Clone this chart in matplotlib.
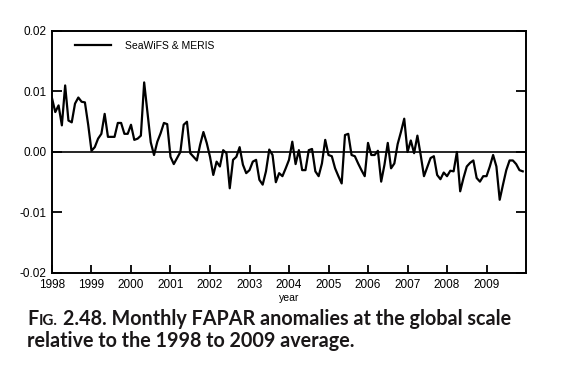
import numpy as np
import matplotlib.pyplot as plt

# monthly FAPAR anomalies, Jan 1998 .. Dec 2009
a1998 = [0.0089, 0.0066, 0.0077, 0.0044, 0.0110, 0.0052, 0.0049, 0.0080, 0.0090, 0.0083, 0.0082, 0.0045]
a1999 = [0.0002, 0.0008, 0.0022, 0.0030, 0.0063, 0.0025, 0.0025, 0.0025, 0.0048, 0.0048, 0.0030, 0.0030]
a2000 = [0.0045, 0.0020, 0.0022, 0.0027, 0.0115, 0.0066, 0.0016, -0.0005, 0.0017, 0.0031, 0.0048, 0.0046]
a2001 = [-0.0008, -0.0020, -0.0010, 0.0000, 0.0045, 0.0050, -0.0002, -0.0008, -0.0014, 0.0012, 0.0033, 0.0015]
a2002 = [-0.0008, -0.0038, -0.0016, -0.0024, 0.0003, -0.0002, -0.0060, -0.0013, -0.0008, 0.0008, -0.0021, -0.0035]
a2003 = [-0.0030, -0.0016, -0.0013, -0.0046, -0.0054, -0.0032, 0.0004, -0.0005, -0.0050, -0.0035, -0.0040, -0.0027]
a2004 = [-0.0013, 0.0017, -0.0020, 0.0003, -0.0030, -0.0030, 0.0003, 0.0005, -0.0032, -0.0040, -0.0019, 0.0020]
a2005 = [-0.0005, -0.0007, -0.0027, -0.0040, -0.0052, 0.0028, 0.0030, -0.0005, -0.0007, -0.0019, -0.0030, -0.0040]
a2006 = [0.0015, -0.0005, -0.0005, 0.0002, -0.0049, -0.0021, 0.0015, -0.0027, -0.0019, 0.0013, 0.0033, 0.0055]
a2007 = [0.0000, 0.0019, -0.0002, 0.0027, -0.0005, -0.0040, -0.0025, -0.0010, -0.0007, -0.0038, -0.0045, -0.0034]
a2008 = [-0.0040, -0.0031, -0.0032, 0.0000, -0.0065, -0.0043, -0.0024, -0.0018, -0.0014, -0.0043, -0.0049, -0.0040]
a2009 = [-0.0040, -0.0024, -0.0005, -0.0024, -0.0079, -0.0054, -0.0030, -0.0014, -0.0014, -0.0020, -0.0030, -0.0032]

years = list(range(1998, 2010))
yticks = [-0.02, -0.01, 0.0, 0.01, 0.02]
ytick_labels = ['-0.02', '-0.01', '0.00', '0.01', '0.02']

vals = np.array(a1998 + a1999 + a2000 + a2001 + a2002 + a2003 +
                a2004 + a2005 + a2006 + a2007 + a2008 + a2009)
t = 1998 + np.arange(len(vals)) / 12.0

plt.rcParams['font.family'] = ['Liberation Sans', 'DejaVu Sans']

fig = plt.figure(figsize=(5.62, 3.76), dpi=100)
ax = fig.add_axes([0.0925, 0.274, 0.8435, 0.6436])

ax.plot(t, vals, color='black', lw=1.6, label='SeaWiFS & MERIS')
ax.axhline(0, color='black', lw=1.2)

ax.set_xlim(1998, 2010)
ax.set_ylim(-0.02, 0.02)
ax.set_xticks(years)
ax.set_xticklabels([str(y) for y in years], fontsize=8.5)
ax.set_yticks(yticks)
ax.set_yticklabels(ytick_labels, fontsize=8.5)
ax.tick_params(axis='both', direction='in', length=6, width=1.3, pad=4)
ax.tick_params(axis='y', right=True, length=7)
for s in ax.spines.values():
    s.set_linewidth(1.4)

ax.set_xlabel('year', fontsize=7.5, labelpad=1.5)
ax.legend(loc='upper left', bbox_to_anchor=(0.048, 0.96), frameon=False, fontsize=7.5,
          handlelength=3.5, handletextpad=1.35, borderaxespad=0, borderpad=0)

# caption with small caps "FIG"
cap_color = '#1a1718'
x0, y1 = 0.048, 0.136
fs = 14.2
f1 = fig.text(x0, y1, 'F', fontsize=fs, fontweight='bold', family='Lato', color=cap_color)
fig.canvas.draw()
r = fig.canvas.get_renderer()
bb = f1.get_window_extent(r)
f2 = fig.text(bb.x1 / fig.bbox.width + 0.001, y1, 'IG.', fontsize=fs * 0.76, fontweight='bold',
              family='Lato', color=cap_color)
bb2 = f2.get_window_extent(r)
fig.text(bb2.x1 / fig.bbox.width + 0.009, y1, '2.48. Monthly FAPAR anomalies at the global scale',
         fontsize=fs, fontweight='bold', family='Lato', color=cap_color)
fig.text(x0, y1 - 0.059, 'relative to the 1998 to 2009 average.',
         fontsize=fs, fontweight='bold', family='Lato', color=cap_color)

fig.savefig('out.png', dpi=100)
